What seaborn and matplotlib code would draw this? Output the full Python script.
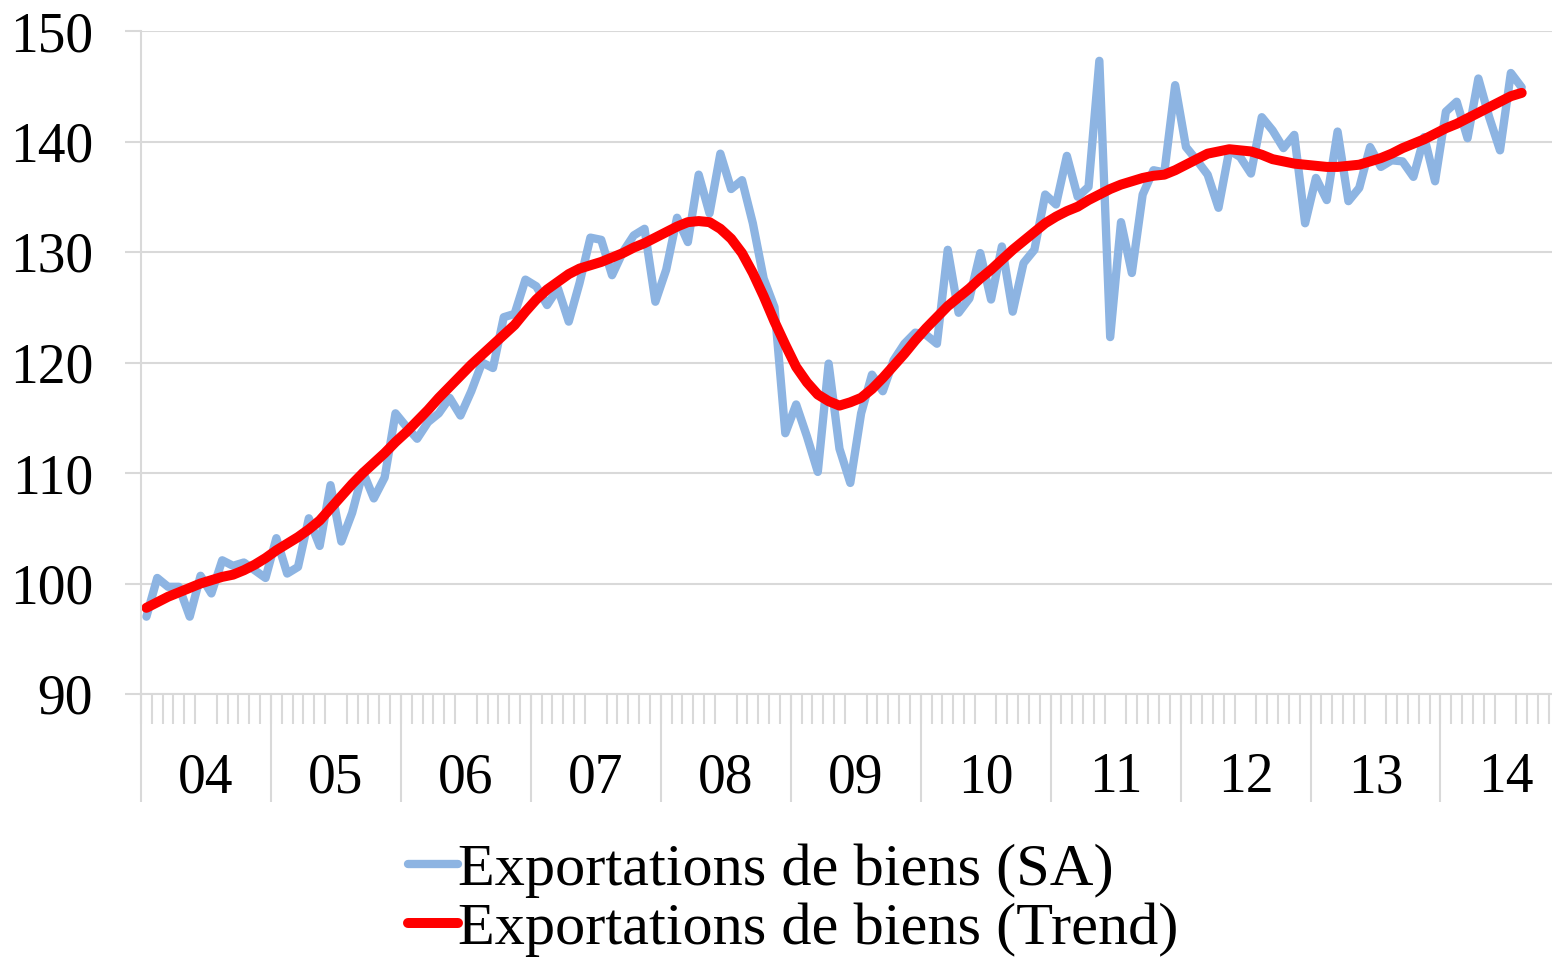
import matplotlib.pyplot as plt
import numpy as np
import pandas as pd
import seaborn as sns

# monthly data, Jan 2004 -> Aug 2014 (index 0 = Jan 04)
sa_values = [
    97.0, 100.5, 99.7, 99.7, 97.0, 100.7, 99.1, 102.1, 101.6, 101.9, 101.2, 100.5,
    104.1, 100.9, 101.5, 105.9, 103.4, 108.9, 103.8, 106.4, 110.1, 107.7, 109.6, 115.4,
    114.2, 113.1, 114.6, 115.4, 116.8, 115.2, 117.4, 120.0, 119.5, 124.1, 124.4, 127.5,
    126.9, 125.2, 126.7, 123.7, 127.2, 131.3, 131.1, 127.9, 130.0, 131.5, 132.1, 125.5,
    128.4, 133.1, 130.9, 137.0, 133.5, 138.9, 135.7, 136.5, 132.6, 127.6, 125.0, 113.6,
    116.2, 113.3, 110.1, 119.9, 112.2, 109.1, 115.4, 118.9, 117.4, 120.2, 121.7, 122.7,
    122.5, 121.7, 130.2, 124.5, 125.8, 129.9, 125.7, 130.5, 124.6, 129.0, 130.2, 135.2,
    134.3, 138.7, 135.0, 135.9, 147.3, 122.3, 132.7, 128.1, 135.2, 137.4, 137.2, 145.1,
    139.5, 138.3, 137.0, 134.0, 139.2, 138.6, 137.1, 142.2, 141.0, 139.4, 140.6, 132.6,
    136.7, 134.7, 140.9, 134.6, 135.8, 139.5, 137.7, 138.3, 138.2, 136.8, 140.4, 136.4,
    142.7, 143.6, 140.3, 145.7, 142.2, 139.2, 146.2, 144.9,
]
trend_values = [
    97.8, 98.3, 98.8, 99.2, 99.6, 100.0, 100.3, 100.6, 100.8, 101.2, 101.7, 102.3,
    103.0, 103.6, 104.2, 104.9, 105.7, 106.8, 107.9, 109.0, 110.0, 110.9, 111.8, 112.8,
    113.7, 114.7, 115.7, 116.8, 117.8, 118.8, 119.8, 120.7, 121.6, 122.5, 123.4, 124.6,
    125.7, 126.6, 127.3, 128.0, 128.5, 128.8, 129.1, 129.5, 129.9, 130.4, 130.8, 131.3,
    131.8, 132.3, 132.7, 132.8, 132.7, 132.1, 131.2, 129.9, 128.1, 126.0, 123.7, 121.6,
    119.6, 118.2, 117.1, 116.5, 116.1, 116.4, 116.8, 117.6, 118.6, 119.7, 120.8, 122.0,
    123.1, 124.1, 125.1, 125.9, 126.7, 127.6, 128.4, 129.3, 130.2, 131.0, 131.8, 132.6,
    133.2, 133.7, 134.1, 134.7, 135.2, 135.7, 136.1, 136.4, 136.7, 136.9, 137.0, 137.4,
    137.9, 138.4, 138.9, 139.1, 139.3, 139.2, 139.1, 138.8, 138.4, 138.2, 138.0, 137.9,
    137.8, 137.7, 137.7, 137.8, 137.9, 138.2, 138.5, 138.9, 139.4, 139.8, 140.2, 140.7,
    141.2, 141.6, 142.1, 142.6, 143.1, 143.6, 144.1, 144.4,
]
year_labels = ['04', '05', '06', '07', '08', '09', '10', '11', '12', '13', '14']
sa_label = 'Exportations de biens (SA)'
trend_label = 'Exportations de biens (Trend)'

months = np.arange(len(sa_values))
df = pd.DataFrame({'mois': months, 'sa': sa_values, 'trend': trend_values})

sns.set_style('white')
plt.rcParams['font.family'] = ['Liberation Serif', 'DejaVu Serif']
plt.rcParams['text.color'] = 'black'
plt.rcParams['xtick.color'] = 'black'
plt.rcParams['ytick.color'] = 'black'

grey = '#d9d9d9'
fig = plt.figure(figsize=(15.52, 9.57), dpi=100)
ax = fig.add_axes([141 / 1552, 1 - 694 / 957, 1 - 141 / 1552, (694 - 31) / 957])

sns.lineplot(data=df, x='mois', y='sa', color='#8db4e2', linewidth=6, ax=ax,
             label=sa_label, legend=False)
sns.lineplot(data=df, x='mois', y='trend', color='#ff0000', linewidth=7.2, ax=ax,
             label=trend_label, legend=False)

ax.set_xlim(-0.5, 129.8)
ax.set_ylim(90, 150)
ax.set_yticks(range(90, 151, 10))
ax.yaxis.grid(True, color=grey, linewidth=1.5)
ax.set_axisbelow(True)
ax.set_xlabel('')
ax.set_ylabel('')

for s in ['top', 'right']:
    ax.spines[s].set_visible(False)
for s in ['left', 'bottom']:
    ax.spines[s].set_color(grey)
    ax.spines[s].set_linewidth(1.5)

ax.tick_params(axis='y', left=True, length=11.5, width=1.5, color=grey,
               labelcolor='black', labelsize=40, pad=23)

# year labels centred in each year, month ticks as minor ticks
year_centres = [5.5 + 12 * k for k in range(len(year_labels))]
ax.set_xticks(year_centres)
ax.set_xticklabels(year_labels)
ax.tick_params(axis='x', which='major', bottom=True, length=0, labelsize=40,
               labelcolor='black', pad=42)
ax.set_xticks(np.arange(-0.5, 130, 1), minor=True)
ax.tick_params(axis='x', which='minor', bottom=True, length=21.6, width=1.5,
               color=grey)

# long separators between years
sec = ax.secondary_xaxis('bottom')
sec.set_xticks([-0.5 + 12 * k for k in range(len(year_labels))])
sec.set_xticklabels([])
sec.tick_params(axis='x', bottom=True, length=78, width=1.5, color=grey)
sec.spines['bottom'].set_visible(False)

handles = ax.get_lines()[:2]
fig.legend(handles, [sa_label, trend_label], loc='upper left',
           bbox_to_anchor=(408 / 1552, 1 - 843 / 957), frameon=False,
           fontsize=43.5, handlelength=0.83, handletextpad=0.0,
           labelspacing=0.06, borderpad=0, borderaxespad=0)

fig.savefig('out.png', dpi=100)
